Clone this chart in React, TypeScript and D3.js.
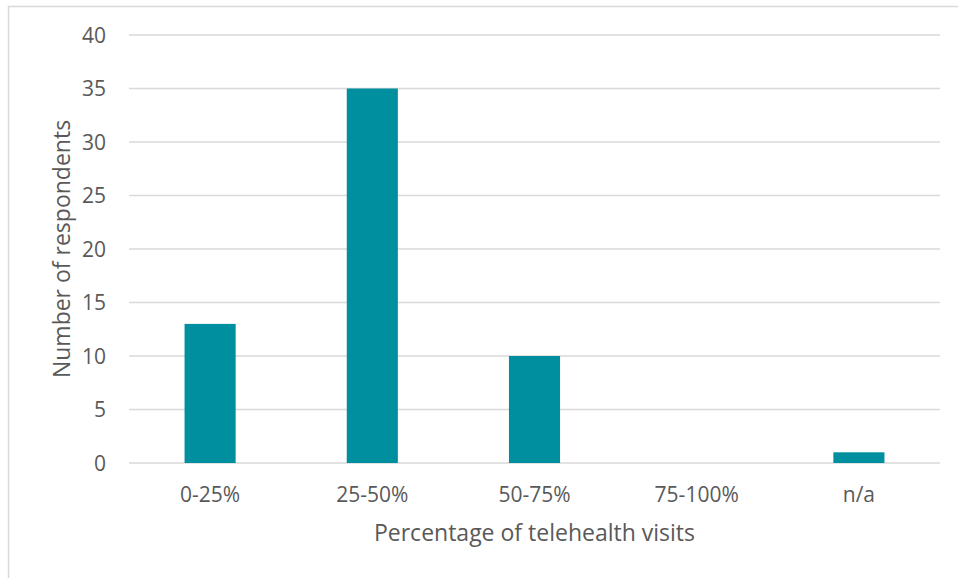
import React from "react";
import * as d3 from "d3";

const categories = ["0-25%", "25-50%", "50-75%", "75-100%", "n/a"];
const respondents = [13, 35, 10, 0, 1];
const yTicks = [0, 5, 10, 15, 20, 25, 30, 35, 40];
const xTitle = "Percentage of telehealth visits";
const yTitle = "Number of respondents";

const W = 958;
const H = 578;
const plot = { left: 129, right: 940, top: 35, bottom: 463 };
const FONT = "'Open Sans', 'Liberation Sans', sans-serif";

export default function App() {
  const x = d3
    .scaleBand<string>()
    .domain(categories)
    .range([plot.left, plot.right])
    .paddingInner(0.685)
    .paddingOuter(0.3425);
  const y = d3.scaleLinear().domain([0, 40]).range([plot.bottom, plot.top]);

  return (
    <svg
      width={W}
      height={H}
      style={{ position: "absolute", left: 0, top: 0, background: "#fff" }}
    >
      <rect x={8.5} y={6.5} width={W + 10} height={H + 10} fill="#fff" stroke="#d9d9d9" strokeWidth={1.5} />
      {yTicks.map((t) => (
        <g key={t}>
          <line
            x1={plot.left}
            x2={plot.right}
            y1={y(t)}
            y2={y(t)}
            stroke="#d9d9d9"
            strokeWidth={1.3}
          />
          <text
            x={106}
            y={y(t)}
            dy="0.36em"
            textAnchor="end"
            fontFamily={FONT}
            fontSize={21}
            fill="#595959"
          >
            {t}
          </text>
        </g>
      ))}
      {categories.map((c, i) => (
        <g key={c}>
          {respondents[i] > 0 && (
            <rect
              x={x(c)}
              y={y(respondents[i])}
              width={x.bandwidth()}
              height={y(0) - y(respondents[i])}
              fill="#008f9e"
            />
          )}
          <text
            x={(x(c) ?? 0) + x.bandwidth() / 2}
            y={502}
            textAnchor="middle"
            fontFamily={FONT}
            fontSize={21}
            fill="#595959"
          >
            {c}
          </text>
        </g>
      ))}
      <text
        x={(plot.left + plot.right) / 2}
        y={541}
        textAnchor="middle"
        fontFamily={FONT}
        fontSize={23}
        fill="#595959"
      >
        {xTitle}
      </text>
      <text
        transform={`translate(70,${(plot.top + plot.bottom) / 2}) rotate(-90)`}
        textAnchor="middle"
        fontFamily={FONT}
        fontSize={23}
        fill="#595959"
      >
        {yTitle}
      </text>
    </svg>
  );
}
